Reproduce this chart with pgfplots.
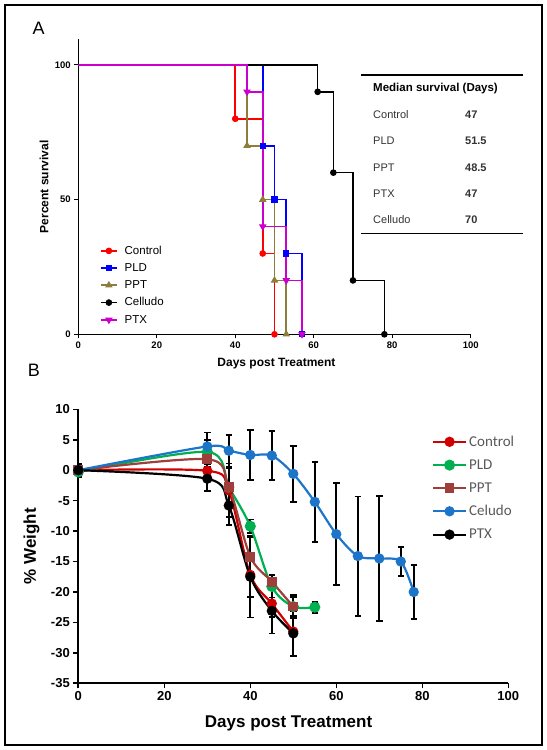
\documentclass[border=0pt]{standalone}
\usepackage{fontspec}
\setmainfont{Liberation Sans}
\newfontfamily\calibri{Carlito}
\usepackage{pgfplots}
\pgfplotsset{compat=1.18}
\usepackage{pgfplotstable}

\definecolor{aRed}{HTML}{FF0000}
\definecolor{aBlue}{HTML}{0000FF}
\definecolor{aOlive}{HTML}{8C7E3A}
\definecolor{aMag}{HTML}{CC00CC}
\definecolor{bRed}{HTML}{D00000}
\definecolor{bGreen}{HTML}{00B050}
\definecolor{bBrown}{HTML}{9E3F3C}
\definecolor{bBlue}{HTML}{1C75C8}
\definecolor{legtext}{HTML}{595959}
\definecolor{tabtext}{HTML}{333333}

% Panel B data: day, % weight, error
\pgfplotstableread{
x y e
0 0 0.8
30 -0.1 1.5
35 -3.3 4.4
40 -17.2 3.6
45 -21.9 2.2
50 -26.5 4.0
}\bctl
\pgfplotstableread{
x y e
0 -0.3 0.8
30 3.0 2.0
35 -2.8 3.2
40 -9.2 1.1
45 -19.1 1.8
50 -22.4 1.6
55 -22.5 0.9
}\bpld
\pgfplotstableread{
x y e
0 0 0.8
30 1.8 1.8
35 -2.7 3.0
40 -14.2 3.2
45 -18.3 1.1
50 -22.4 1.9
}\bppt
\pgfplotstableread{
x y e
0 0 0.8
30 3.9 2.3
35 3.2 2.6
40 2.5 4.1
45 2.4 4.0
50 -0.6 4.6
55 -5.2 6.6
60 -10.5 8.4
65 -14.1 9.8
70 -14.5 10.3
75 -15.0 2.4
78 -20.0 4.4
}\bcel
\pgfplotstableread{
x y e
0 0 1.0
30 -1.4 2.0
35 -5.8 3.2
40 -17.5 6.7
45 -23.1 3.7
50 -26.8 3.7
}\bptx

\pgfplotsset{
  amarks/.style={only marks, line width=1.6bp, mark options={solid, fill=#1, draw=#1, line width=1bp}, color=#1,
    legend image code/.code={\draw[##1, sharp plot, mark repeat=2, mark phase=2] plot coordinates {(0bp,0bp)(8bp,0bp)(16bp,0bp)};}},
  aline/.style={forget plot, const plot, line width=1.6bp, color=#1, mark=none},
  bser/.style={color=#1, smooth, line width=2.2bp, mark options={solid, fill=#1, draw=#1}},
  berr/.style={forget plot, only marks, mark=none, color=black,
    error bars/y dir=both, error bars/y explicit,
    error bars/error bar style={draw=black, line width=1.7bp, solid},
    error bars/error mark=-,
    error bars/error mark options={draw=black, line width=1.7bp, mark size=3.2bp, rotate=90}},
}

\begin{document}
\begin{tikzpicture}
\useasboundingbox (0,0) rectangle (547bp,750bp);
\draw[line width=2bp] (5bp,5bp) rectangle (542bp,745bp);

\node[font=\fontsize{18bp}{20bp}\selectfont, inner sep=0] at (38.6bp,721.7bp) {A};
\node[font=\fontsize{18bp}{20bp}\selectfont, inner sep=0] at (34bp,380bp) {B};

% ---------------- Panel A ----------------
\begin{axis}[
  at={(78.3bp,415.7bp)}, anchor=south west, scale only axis,
  width=392.4bp, height=295bp,
  xmin=0, xmax=100, ymin=0, ymax=109.5,
  axis x line*=bottom, axis y line*=left,
  axis line style={line width=1.4bp, -},
  xtick={0,20,...,100}, ytick={0,50,100},
  tick align=outside, major tick length=4bp,
  tick style={line width=1.2bp, black},
  /pgf/number format/assume math mode=true,
  tick label style={font=\bfseries\fontsize{9.5bp}{11bp}\selectfont},
  xlabel={Days post Treatment}, ylabel={Percent survival},
  label style={font=\bfseries\fontsize{12bp}{14bp}\selectfont},
  xlabel style={at={(axis description cs:0.505,-0.098)}, anchor=center},
  ylabel style={at={(axis description cs:-0.087,0.5)}, anchor=center},
  legend style={at={(axis cs:5.5,33.6)}, anchor=north west, draw=none, fill=none,
    font=\fontsize{11.5bp}{13bp}\selectfont, row sep=3.7bp, inner sep=0pt,
    /tikz/every odd column/.append style={column sep=5bp}},
  legend cell align=left,
]
\addplot[aline=aRed] coordinates {(0,100)(40,80)(47,30)(50,0)};
\addplot[aline=aBlue] coordinates {(0,100)(47,70)(50,50)(53,30)(57,0)};
\addplot[aline=aOlive] coordinates {(0,100)(43,70)(47,50)(50,20)(53,0)};
\addplot[aline=black] coordinates {(0,100)(61,90)(65,60)(70,20)(78,0)};
\addplot[aline=aMag] coordinates {(0,100)(43,90)(47,40)(53,20)(57,0)};

\addplot[amarks=aRed, mark=*, mark size=2.8bp] coordinates {(40,80)(47,30)(50,0)};
\addlegendentry{Control}
\addplot[amarks=aBlue, mark=square*, mark size=2.6bp] coordinates {(47,70)(50,50)(53,30)(57,0)};
\addlegendentry{PLD}
\addplot[amarks=aOlive, mark=triangle*, mark size=3.4bp] coordinates {(43,70)(47,50)(50,20)(53,0)};
\addlegendentry{PPT}
\addplot[amarks=black, mark=*, mark size=2.8bp] coordinates {(61,90)(65,60)(70,20)(78,0)};
\addlegendentry{Celludo}
\addplot[amarks=aMag, mark=triangle*, mark size=3.4bp, every mark/.append style={rotate=180}] coordinates {(43,90)(47,40)(53,20)(57,0)};
\addlegendentry{PTX}
\end{axis}

% table of median survival
\draw[line width=1.3bp] (361bp,675bp) -- (523bp,675bp);
\draw[line width=1.3bp] (361bp,516.7bp) -- (523bp,516.7bp);
\begin{scope}[every node/.style={anchor=west, inner sep=0pt, text=tabtext, font=\fontsize{11bp}{13bp}\selectfont}]
\node[font=\bfseries\fontsize{11.5bp}{13bp}\selectfont, text=black] at (373bp,661bp) {Median survival (Days)};
\node at (373bp,635bp) {Control};
\node at (373bp,609bp) {PLD};
\node at (373bp,582.7bp) {PPT};
\node at (373bp,556.7bp) {PTX};
\node at (373bp,530bp) {Celludo};
\node[font=\bfseries\fontsize{11bp}{13bp}\selectfont] at (465bp,635bp) {47};
\node[font=\bfseries\fontsize{11bp}{13bp}\selectfont] at (465bp,609bp) {51.5};
\node[font=\bfseries\fontsize{11bp}{13bp}\selectfont] at (465bp,582.7bp) {48.5};
\node[font=\bfseries\fontsize{11bp}{13bp}\selectfont] at (465bp,556.7bp) {47};
\node[font=\bfseries\fontsize{11bp}{13bp}\selectfont] at (465bp,530bp) {70};
\end{scope}

% ---------------- Panel B ----------------
\begin{axis}[
  at={(78.3bp,66.7bp)}, anchor=south west, scale only axis,
  width=430bp, height=274bp,
  xmin=0, xmax=100, ymin=-35, ymax=10,
  axis x line*=bottom, axis y line*=left,
  axis line style={line width=2bp, -},
  xtick={0,20,...,100}, ytick={-35,-30,...,10},
  tick align=outside, major tick length=5bp,
  tick style={line width=1.6bp, black},
  /pgf/number format/assume math mode=true,
  tick label style={font=\bfseries\fontsize{13bp}{15bp}\selectfont},
  xlabel={Days post Treatment}, ylabel={\% Weight},
  label style={font=\bfseries\fontsize{17bp}{19bp}\selectfont},
  xlabel style={at={(axis description cs:0.489,-0.146)}, anchor=center},
  ylabel style={at={(axis description cs:-0.109,0.5)}, anchor=center},
  legend style={at={(axis cs:82.2,6.0)}, anchor=north west, draw=none, fill=none,
    font=\calibri\fontsize{15bp}{17bp}\selectfont, text=legtext, row sep=7.8bp, inner sep=0pt},
  legend cell align=left,
  legend image code/.code={\draw[#1, mark repeat=2, mark phase=2] plot coordinates {(0bp,0bp)(16.5bp,0bp)(33bp,0bp)};},
]
% error bars (drawn first, behind the lines)
\addplot[berr] table[x=x, y=y, y error=e] {\bctl};
\addplot[berr] table[x=x, y=y, y error=e] {\bpld};
\addplot[berr] table[x=x, y=y, y error=e] {\bppt};
\addplot[berr] table[x=x, y=y, y error=e] {\bcel};
\addplot[berr] table[x=x, y=y, y error=e] {\bptx};
% series
\addplot[bser=bRed, mark=*, mark size=4bp] table[x=x, y=y] {\bctl};
\addlegendentry{Control}
\addplot[bser=bGreen, mark=*, mark size=4.4bp] table[x=x, y=y] {\bpld};
\addlegendentry{PLD}
\addplot[bser=bBrown, mark=square*, mark size=3.8bp] table[x=x, y=y] {\bppt};
\addlegendentry{PPT}
\addplot[bser=bBlue, mark=*, mark size=4bp] table[x=x, y=y] {\bcel};
\addlegendentry{Celudo}
\addplot[bser=black, mark=*, mark size=4bp] table[x=x, y=y] {\bptx};
\addlegendentry{PTX}
\end{axis}
\end{tikzpicture}
\end{document}
